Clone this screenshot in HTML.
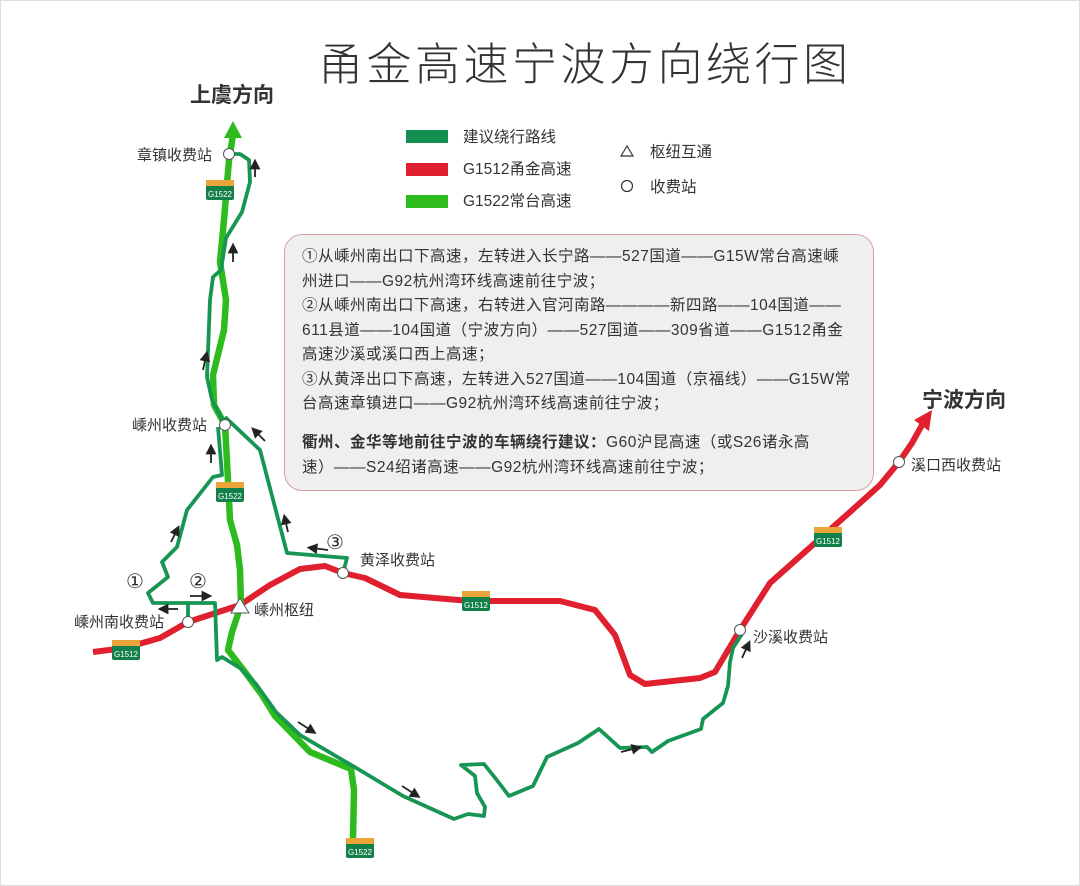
<!DOCTYPE html>
<html><head><meta charset="utf-8"><style>
html,body{margin:0;padding:0;background:#fff}
body{width:1080px;height:886px;position:relative;overflow:hidden;font-family:"Liberation Sans","Noto Sans CJK SC",sans-serif;color:#333}
.t{position:absolute;white-space:nowrap}
.box{position:absolute;left:284px;top:234px;width:588px;height:255px;border:1px solid #d9a0a0;border-radius:18px;background:#efefef}
.box p{margin:0;position:absolute;left:17px;font-size:15.5px;line-height:24.5px;color:#333;white-space:nowrap;letter-spacing:0.5px}
</style></head><body>
<div style="position:absolute;left:0;top:0;width:1078px;height:884px;border:1px solid #ddd"></div>
<div class="t" style="left:318px;top:28px;font-size:45px;color:#333;letter-spacing:3.5px;font-weight:300;font-family:'Noto Sans CJK SC',sans-serif">甬金高速宁波方向绕行图</div>
<div class="t" style="left:190px;top:79px;font-size:21px;font-weight:bold">上虞方向</div>
<div class="t" style="left:922px;top:384px;font-size:21px;font-weight:bold">宁波方向</div>

<div class="box">
<p style="top:10px">①从嵊州南出口下高速，左转进入长宁路——527国道——G15W常台高速嵊</p>
<p style="top:34.5px">州进口——G92杭州湾环线高速前往宁波；</p>
<p style="top:59px">②从嵊州南出口下高速，右转进入官河南路————新四路——104国道——</p>
<p style="top:83.5px">611县道——104国道（宁波方向）——527国道——309省道——G1512甬金</p>
<p style="top:108px">高速沙溪或溪口西上高速；</p>
<p style="top:132.5px">③从黄泽出口下高速，左转进入527国道——104国道（京福线）——G15W常</p>
<p style="top:157px">台高速章镇进口——G92杭州湾环线高速前往宁波；</p>
<p style="top:196px"><b>衢州、金华等地前往宁波的车辆绕行建议：</b>G60沪昆高速（或S26诸永高</p>
<p style="top:220.5px">速）——S24绍诸高速——G92杭州湾环线高速前往宁波；</p>
</div>

<svg width="1080" height="886" style="position:absolute;left:0;top:0" xmlns="http://www.w3.org/2000/svg">
<defs>
<g id="s12"><rect x="-14" y="-10" width="28" height="20" rx="2" fill="#13804a"/><rect x="-14" y="-10" width="28" height="6" fill="#e9a43a"/><text x="0" y="7" font-size="8" fill="#fff" text-anchor="middle" font-family="Liberation Sans">G1512</text></g>
<g id="s22"><rect x="-14" y="-10" width="28" height="20" rx="2" fill="#13804a"/><rect x="-14" y="-10" width="28" height="6" fill="#e9a43a"/><text x="0" y="7" font-size="8" fill="#fff" text-anchor="middle" font-family="Liberation Sans">G1522</text></g>
<marker id="ah" markerWidth="6" markerHeight="6" refX="3" refY="3" orient="auto"><path d="M0,0 L6,3 L0,6 z" fill="#222"/></marker>
</defs>
<rect x="406" y="130" width="42" height="13" fill="#13904f"/>
<rect x="406" y="163" width="42" height="13" fill="#e0202e"/>
<rect x="406" y="195" width="42" height="13" fill="#2dbb1e"/>
<g font-size="15.5" fill="#333" font-family="Liberation Sans, Noto Sans CJK SC, sans-serif">
<text x="463" y="142">建议绕行路线</text>
<text x="463" y="174">G1512甬金高速</text>
<text x="463" y="206">G1522常台高速</text>
<text x="650" y="157">枢纽互通</text>
<text x="650" y="192">收费站</text>
</g>
<path d="M621,156 L627,146 L633,156 z" fill="none" stroke="#333" stroke-width="1.2"/>
<circle cx="627" cy="186" r="5.5" fill="none" stroke="#333" stroke-width="1.2"/>

<path d="M93,652 L125,648 L160,638 L188,622 L240,605 L270,585 L300,569 L325,566 L343,573 L365,578 L400,595 L470,601 L560,601 L595,610 L615,635 L630,675 L645,684 L700,678 L715,672 L740,630 L770,583 L815,543 L850,512 L880,485 L899,462 L912,443 L922,425" fill="none" stroke="#e0202e" stroke-width="6" stroke-linejoin="round"/>
<path d="M914,420 L932,410 L929,431 z" fill="#e0202e"/>

<path d="M233,135 L229,160 L224,220 L220,262 L226,300 L224,330 L213,375 L214,405 L225,425 L228,480 L230,520 L237,545 L240,570 L241,605 L232,632 L228,650 L245,672 L262,695 L275,716 L310,752 L351,769 L354,790 L353,838" fill="none" stroke="#2dbb1e" stroke-width="6.5" stroke-linejoin="round"/>
<path d="M224,138 L233,121 L242,138 z" fill="#2dbb1e"/>

<g fill="none" stroke="#179653" stroke-width="3.8" stroke-linejoin="round">
<path d="M225,425 L212,400 L207,377 L210,300 L213,277 L221,270 L226,238 L242,212 L250,182 L249,160 L240,154 L229,154"/>
<path d="M218,427 L222,475 L213,477 L187,510 L177,547 L162,562 L168,577 L148,593 L153,603 L215,603 L217,660 L222,657 L240,668 L256,684 L276,712 L300,735 L358,769 L403,796 L454,819 L468,814 L484,816 L485,807 L477,793 L475,776 L461,765 L484,764 L496,779 L509,796 L533,786 L547,757 L578,743 L599,729 L620,748 L647,747 L652,752 L668,741 L701,729 L703,719 L723,703 L728,686 L730,662 L733,648 L742,634"/>
<path d="M188,603 L188,622"/>
<path d="M225,417 L260,450 L287,553 L347,558 L343,573"/>
</g>

<g stroke="#222" stroke-width="1.8" marker-end="url(#ah)">
<line x1="255" y1="177" x2="255" y2="164"/>
<line x1="233" y1="262" x2="233" y2="248"/>
<line x1="203" y1="370" x2="206" y2="356"/>
<line x1="211" y1="463" x2="211" y2="449"/>
<line x1="171" y1="542" x2="177" y2="530"/>
<line x1="265" y1="441" x2="255" y2="431"/>
<line x1="288" y1="532" x2="285" y2="519"/>
<line x1="328" y1="550" x2="312" y2="548"/>
<line x1="190" y1="596" x2="207" y2="596"/>
<line x1="178" y1="609" x2="163" y2="609"/>
<line x1="298" y1="722" x2="312" y2="731"/>
<line x1="402" y1="786" x2="416" y2="795"/>
<line x1="621" y1="752" x2="637" y2="748"/>
<line x1="742" y1="658" x2="748" y2="645"/>
</g>

<path d="M231,613 L240,598 L249,613 z" fill="#fff" stroke="#555" stroke-width="1"/>
<g fill="#fff" stroke="#555" stroke-width="1">
<circle cx="229" cy="154" r="5.5"/>
<circle cx="225" cy="425" r="5.5"/>
<circle cx="188" cy="622" r="5.5"/>
<circle cx="343" cy="573" r="5.5"/>
<circle cx="740" cy="630" r="5.5"/>
<circle cx="899" cy="462" r="5.5"/>
</g>

<use href="#s22" x="220" y="190"/>
<use href="#s22" x="230" y="492"/>
<use href="#s22" x="360" y="848"/>
<use href="#s12" x="126" y="650"/>
<use href="#s12" x="476" y="601"/>
<use href="#s12" x="828" y="537"/>

<g font-size="15" fill="#333" font-family="Liberation Sans, Noto Sans CJK SC, sans-serif">
<text x="137" y="160">章镇收费站</text>
<text x="132" y="430">嵊州收费站</text>
<text x="74" y="627">嵊州南收费站</text>
<text x="254" y="615">嵊州枢纽</text>
<text x="360" y="565">黄泽收费站</text>
<text x="753" y="642">沙溪收费站</text>
<text x="911" y="470">溪口西收费站</text>
</g>
<g font-size="20" fill="#333" font-family="DejaVu Sans, sans-serif">
<text x="126" y="588">①</text>
<text x="189" y="588">②</text>
<text x="326" y="549">③</text>
</g>
</svg>
</body></html>
